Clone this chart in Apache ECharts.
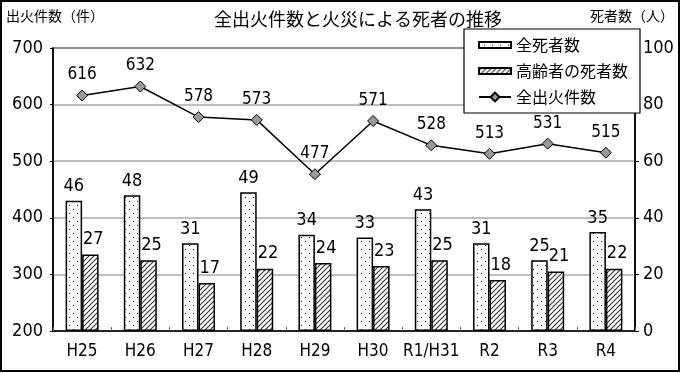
<!DOCTYPE html>
<html><head><meta charset="utf-8">
<script src="https://cdn.jsdelivr.net/npm/echarts@6/dist/echarts.min.js"></script>
<style>html,body{margin:0;padding:0;background:#fff}#c{width:680px;height:373px}</style>
</head><body><div id="c"></div>
<script>
const categories = ['H25','H26','H27','H28','H29','H30','R1/H31','R2','R3','R4'];
const allDeaths = [46,48,31,49,34,33,43,31,25,35];
const elderlyDeaths = [27,25,17,22,24,23,25,18,21,22];
const fires = [616,632,578,573,477,571,528,513,531,515];
const leftTicks = [200,700,100];
const rightTicks = [0,100,20];

function dotPattern(){
  const c=document.createElement('canvas');c.width=8;c.height=8;
  const g=c.getContext('2d');g.fillStyle='#fff';g.fillRect(0,0,8,8);
  g.fillStyle='#000';g.fillRect(1,1,1,1);g.fillRect(5,5,1,1);
  return {image:c,repeat:'repeat'};
}
function hatchPattern(){
  const s=5;const c=document.createElement('canvas');c.width=s;c.height=s;
  const g=c.getContext('2d');g.fillStyle='#fff';g.fillRect(0,0,s,s);
  g.strokeStyle='#333';g.lineWidth=1.1;
  g.beginPath();g.moveTo(-1,s+1);g.lineTo(s+1,-1);g.stroke();
  g.beginPath();g.moveTo(-1,1);g.lineTo(1,-1);g.stroke();
  g.beginPath();g.moveTo(s-1,s+1);g.lineTo(s+1,s-1);g.stroke();
  return {image:c,repeat:'repeat'};
}
const FONT='"Noto Sans CJK JP", sans-serif';
const NUM='"Liberation Sans Narrow", "DejaVu Sans Condensed", "Noto Sans CJK JP", sans-serif';
const BARICON='path://M0,0H32V6H0Z';
const chart=echarts.init(document.getElementById('c'),null,{renderer:'canvas'});
chart.setOption({
  animation:false,
  textStyle:{fontFamily:FONT,color:'#000'},
  title:{text:'全出火件数と火災による死者の推移',left:353,textAlign:'center',top:5,
    textStyle:{fontFamily:FONT,fontSize:18,fontWeight:'normal',color:'#000'}},
  graphic:[
    {type:'rect',shape:{x:1,y:1,width:678,height:370},style:{fill:null,stroke:'#000',lineWidth:2},z:-1},
    {type:'text',left:6,top:9,style:{text:'出火件数（件）',font:'14px '+FONT,fill:'#000'}},
    {type:'text',left:590,top:9,style:{text:'死者数（人）',font:'14px '+FONT,fill:'#000'}}
  ],
  legend:{orient:'vertical',left:464,top:29,width:181,backgroundColor:'#fff',borderColor:'#000',borderWidth:1.2,
    padding:[8,12,8,14],itemGap:10,itemWidth:32,itemHeight:11,z:10,
    textStyle:{fontFamily:FONT,fontSize:16,color:'#000'},
    data:[{name:'全死者数',icon:BARICON},{name:'高齢者の死者数',icon:BARICON},'全出火件数']},
  grid:{left:53,right:45,top:48,bottom:42,show:true,borderColor:'#000',borderWidth:1.5,backgroundColor:'transparent'},
  xAxis:{type:'category',data:categories,
    axisLine:{lineStyle:{color:'#000',width:1.5}},
    axisTick:{show:true,inside:true,length:4,lineStyle:{color:'#666'}},
    axisLabel:{interval:0,fontFamily:NUM,fontSize:17,color:'#000',margin:12}},
  yAxis:[
    {type:'value',min:leftTicks[0],max:leftTicks[1],interval:leftTicks[2],
      axisLine:{show:true,lineStyle:{color:'#000',width:1.5}},axisTick:{show:true,length:3,lineStyle:{color:'#000'}},
      splitLine:{lineStyle:{color:'#aaa',width:1.5}},
      axisLabel:{fontFamily:NUM,fontSize:18,color:'#000',margin:10}},
    {type:'value',min:rightTicks[0],max:rightTicks[1],interval:rightTicks[2],position:'right',
      axisLine:{show:true,lineStyle:{color:'#000',width:1.5}},axisTick:{show:true,length:4,lineStyle:{color:'#000'}},
      splitLine:{show:false},
      axisLabel:{fontFamily:NUM,fontSize:18,color:'#000',margin:8}}
  ],
  series:[
    {name:'全死者数',type:'bar',yAxisIndex:1,data:allDeaths,barWidth:16.5,barGap:'0%',
      itemStyle:{color:dotPattern(),borderColor:'#000',borderWidth:1.5},
      label:{show:true,position:'top',distance:5,fontFamily:NUM,fontSize:18,color:'#000'}},
    {name:'高齢者の死者数',type:'bar',yAxisIndex:1,data:elderlyDeaths,barWidth:16.5,
      itemStyle:{color:hatchPattern(),borderColor:'#000',borderWidth:1.5},
      label:{show:true,position:'top',distance:6,offset:[3,0],fontFamily:NUM,fontSize:18,color:'#000'}},
    {name:'全出火件数',type:'line',yAxisIndex:0,data:fires,symbol:'diamond',symbolSize:11,
      lineStyle:{color:'#000',width:1.5},itemStyle:{color:'#999',borderColor:'#000',borderWidth:1},
      label:{show:true,position:'top',distance:6,fontFamily:NUM,fontSize:17,color:'#000'},z:5}
  ]
});
</script></body></html>
